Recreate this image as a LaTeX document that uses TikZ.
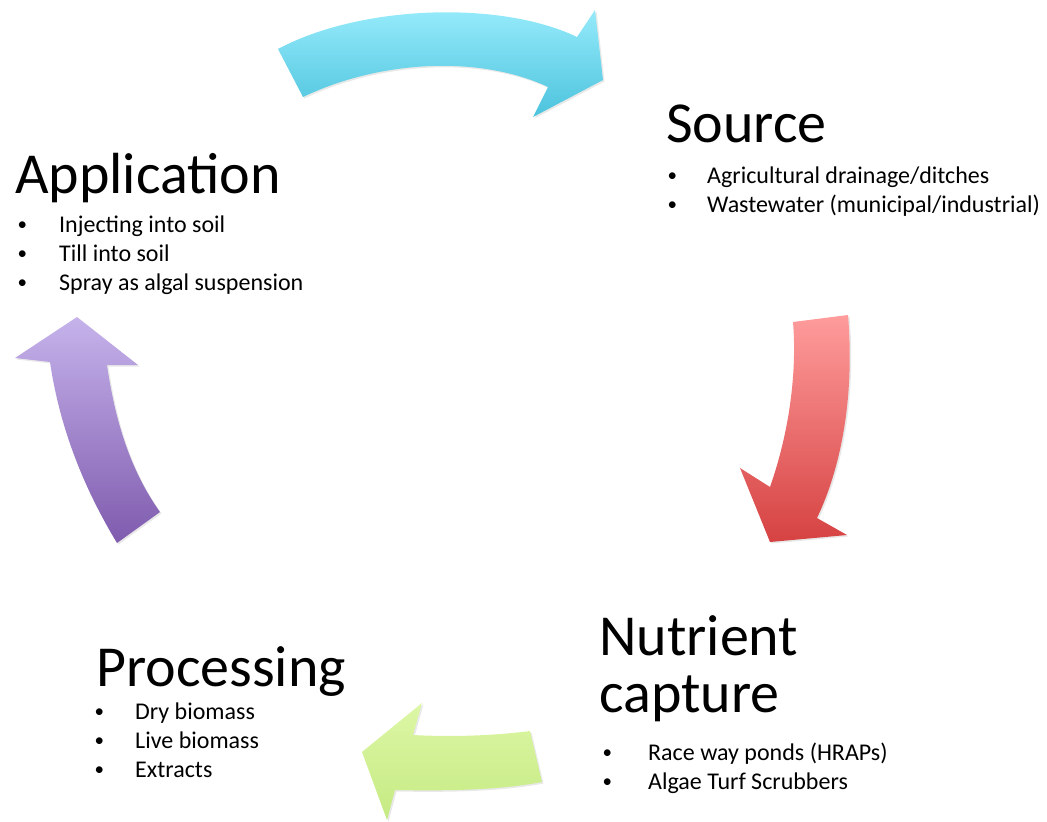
\documentclass[tikz,border=0pt]{standalone}
\usepackage{fontspec}
\setmainfont{Carlito}
\usetikzlibrary{positioning,shadows}

\definecolor{cyantop}{HTML}{9CEEFD}
\definecolor{cyanbot}{HTML}{4CC3DD}
\definecolor{redtop}{HTML}{FF9C9C}
\definecolor{redbot}{HTML}{D64242}
\definecolor{purtop}{HTML}{C6B3EB}
\definecolor{purbot}{HTML}{7F5BAE}
\definecolor{grntop}{HTML}{DDF7A6}
\definecolor{grnbot}{HTML}{C5EA82}

\newcommand{\bul}[1]{\llap{\raisebox{1.5pt}{\fontsize{19}{19}\selectfont\textbullet}\hspace{#1}}}

\tikzset{
  heading/.style={inner sep=0pt, anchor=base west, font=\fontsize{58}{58}\selectfont},
  item/.style={inner sep=0pt, anchor=base west, font=\fontsize{24}{29}\selectfont},
  bigarrow/.style={draw=none, drop shadow={opacity=0.18, shadow xshift=1.5pt, shadow yshift=-1.5pt}},
}

\begin{document}
\begin{tikzpicture}[x=1pt, y=-1pt]
  \useasboundingbox (0,0) rectangle (1047,822);

  % arrows
  \path[bigarrow, top color=cyantop, bottom color=cyanbot]
    (278,49) .. controls (360,5) and (500,0) .. (577,37)
    -- (595,10) -- (603,80) -- (533,117) -- (548,87)
    .. controls (480,55) and (380,60) .. (303,97) -- cycle;
  \path[bigarrow, top color=redtop, bottom color=redbot]
    (793,322) -- (848,315)
    .. controls (855,400) and (840,470) .. (817,518)
    -- (847,535) -- (770,542) -- (740,468) -- (770,487)
    .. controls (790,430) and (797,370) .. (793,322) -- cycle;
  \path[bigarrow, top color=grntop, bottom color=grnbot]
    (362,752) -- (422,703) -- (413,735)
    .. controls (450,737) and (490,736) .. (530,731)
    -- (542,782)
    .. controls (500,790) and (450,791) .. (395,790)
    -- (387,820) -- cycle;
  \path[bigarrow, top color=purtop, bottom color=purbot]
    (77,317) -- (138,365) -- (107,365)
    .. controls (115,420) and (130,470) .. (160,512)
    -- (117,543)
    .. controls (85,490) and (60,430) .. (50,362)
    -- (15,358) -- cycle;

  % headings
  \node[heading] (app) at (15,193) {Application};
  \node[heading] (src) at (666,142) {Source};
  \node[heading] (nut) at (599,655) {Nutrient};
  \node[heading] (cap) [below=57pt of nut.base west, anchor=base west] {capture};
  \node[heading] (proc) at (96,686) {Processing};

  % bullet lists
  \foreach \t [count=\i] in {Injecting into soil, Till into soil, Spray as algal suspension}
    \node[item] (app\i) at (59,232+29*\i-29) {\bul{32pt}\t};
  \foreach \t [count=\i] in {Agricultural drainage/ditches, Wastewater (municipal/industrial)}
    \node[item] (src\i) at (707,183+29*\i-29) {\bul{30pt}\t};
  \foreach \t [count=\i] in {Race way ponds (HRAPs), Algae Turf Scrubbers}
    \node[item] (nut\i) at (648,760+29*\i-29) {\bul{36pt}\t};
  \foreach \t [count=\i] in {Dry biomass, Live biomass, Extracts}
    \node[item] (proc\i) at (135,719+29*\i-29) {\bul{31pt}\t};
\end{tikzpicture}
\end{document}
